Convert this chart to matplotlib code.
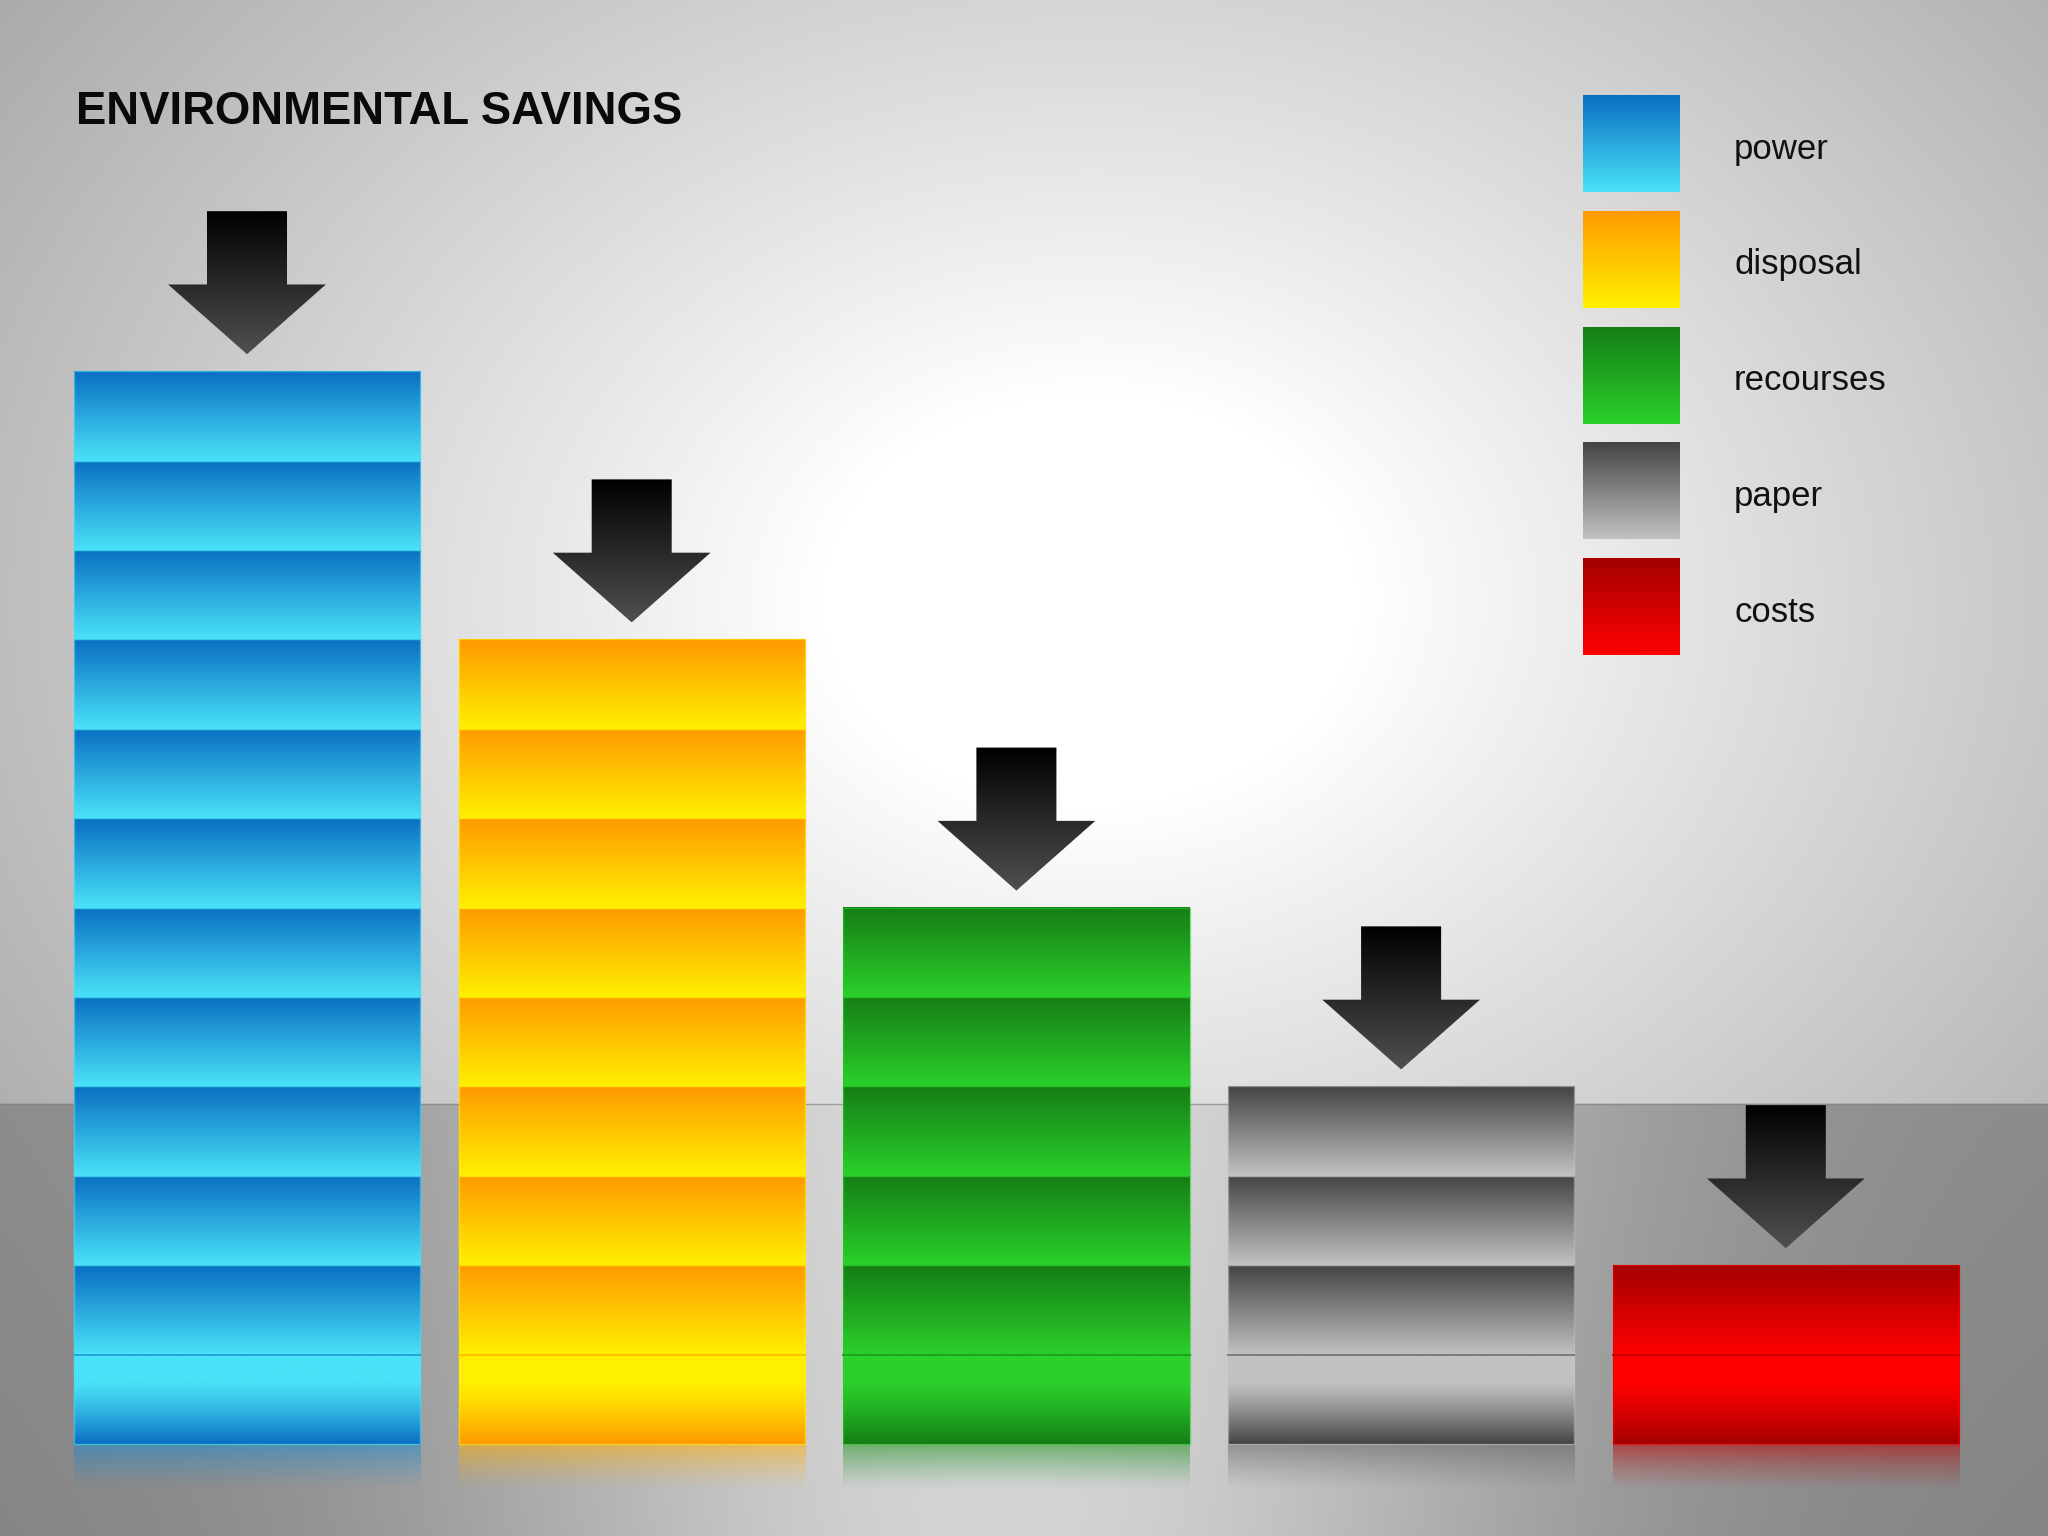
import numpy as np
import matplotlib
matplotlib.use("Agg")
import matplotlib.pyplot as plt
from matplotlib.colors import to_rgb
from matplotlib.patches import Polygon, Rectangle

# данные
categories = ["power", "disposal", "recourses", "paper", "costs"]
blocks = [12, 9, 6, 4, 2]
dark_colors = ["#0a6fc2", "#ff9a00", "#157d16", "#444444", "#a40000"]
light_colors = ["#4ae2f8", "#fff000", "#2bd02b", "#c2c2c2", "#ff0000"]
title = "ENVIRONMENTAL SAVINGS"

plt.rcParams["font.family"] = ["Liberation Sans", "DejaVu Sans"]

W, H = 2048, 1536
fig = plt.figure(figsize=(20.48, 15.36), dpi=100)
ax = fig.add_axes([0, 0, 1, 1])
ax.axis("off")

# пиксели -> единицы данных
x0_px, pitch = 247.0, 384.7
base_px, blk = 1444.0, 89.4
horizon_px = 1104
xlim = (-x0_px / pitch, (W - x0_px) / pitch)
ylim = ((base_px - H) / blk, base_px / blk)


def grad(c_top, c_bot, n=128, start=0.0, power=1.0):
    t = np.linspace(0, 1, n)[:, None]
    t = np.clip((t - start) / (1 - start), 0, 1) ** power
    arr = (1 - t) * np.array(to_rgb(c_top)) + t * np.array(to_rgb(c_bot))
    return arr[:, None, :]


def mix(c1, c2, a):
    return tuple((1 - a) * np.array(to_rgb(c1)) + a * np.array(to_rgb(c2)))


# фон: стена с белым свечением и пол
ny, nx = 768, 1024
yy, xx = np.mgrid[0:ny, 0:nx]
px = xx * W / nx
py = yy * H / ny
d = np.sqrt((px - 1090) ** 2 + ((py - 600) * 1.3) ** 2)
wall = 1 - 0.34 * np.clip((d - 270) / 1100, 0, 1) ** 0.95
floor = 0.54 + 0.32 * np.exp(-((px - 1000) / 560) ** 2) - 0.03 * (py - horizon_px) / (H - horizon_px)
bg = np.where(py < horizon_px, wall, floor)
bg = np.dstack([bg, bg, bg * 1.005])
bg = np.clip(bg, 0, 1)
ax.imshow(bg, extent=(xlim[0], xlim[1], ylim[0], ylim[1]), origin="upper",
          aspect="auto", interpolation="bilinear", zorder=0)
hz = (base_px - horizon_px) / blk
ax.plot(xlim, [hz, hz], color="#777777", lw=1, alpha=0.6, zorder=1)

bw = 0.9
sw, hw = 0.104, 0.205
gap, head_h, shaft_h = 0.19, 0.78, 0.82

for i, (name, n, dk, lt) in enumerate(zip(categories, blocks, dark_colors, light_colors)):
    left, right = i - bw / 2, i + bw / 2

    # нижний блок с обратным градиентом
    ax.imshow(grad(lt, dk, start=0.3, power=1.2), extent=(left, right, 0, 1),
              origin="upper", aspect="auto", zorder=2)
    # остальные блоки
    for k in range(1, n):
        ax.imshow(grad(dk, lt), extent=(left, right, k, k + 1),
                  origin="upper", aspect="auto", zorder=2)
    for k in range(n):
        ax.add_patch(Rectangle((left, k), bw, 1, facecolor="none",
                               edgecolor=lt, lw=1.0, alpha=0.55, zorder=3))
    # граница над нижним блоком
    ax.plot([left, right], [1, 1], color=mix(lt, dk, 0.55), lw=1.4, zorder=3.5)

    # отражение на полу
    t = np.linspace(0, 1, 64)[:, None]
    refl = np.zeros((64, 1, 4))
    refl[:, 0, :3] = np.array(mix(dk, lt, 0.25))
    refl[:, 0, 3] = (0.55 * (1 - t) ** 1.2)[:, 0]
    ax.imshow(refl, extent=(left, right, -0.52, 0), origin="upper",
              aspect="auto", zorder=1.5)

    # стрелка
    tip = n + gap
    hb = tip + head_h
    st = hb + shaft_h
    pts = [(i - sw, st), (i + sw, st), (i + sw, hb), (i + hw, hb),
           (i, tip), (i - hw, hb), (i - sw, hb)]
    poly = Polygon(pts, closed=True, facecolor="none", edgecolor="none")
    ax.add_patch(poly)
    im = ax.imshow(grad("#000000", "#505050"), extent=(i - hw, i + hw, tip, st),
                   origin="upper", aspect="auto", zorder=4)
    im.set_clip_path(poly)

ax.set_xlim(xlim)
ax.set_ylim(ylim)

# заголовок
fig.text(76 / W, 1 - 124 / H, title, fontsize=32.8, fontweight="bold",
         color="#0a0a0a", ha="left", va="baseline")

# легенда
sq = 97
for i, (name, dk, lt) in enumerate(zip(categories, dark_colors, light_colors)):
    top = 95 + i * 115.8
    lax = fig.add_axes([1583 / W, 1 - (top + sq) / H, sq / W, sq / H])
    lax.imshow(grad(dk, lt), aspect="auto", origin="upper")
    lax.axis("off")
    fig.text(1734 / W, 1 - (top + sq / 2 + 15) / H, name, fontsize=25,
             color="#111111", ha="left", va="baseline")

fig.savefig("out.png", dpi=100)
